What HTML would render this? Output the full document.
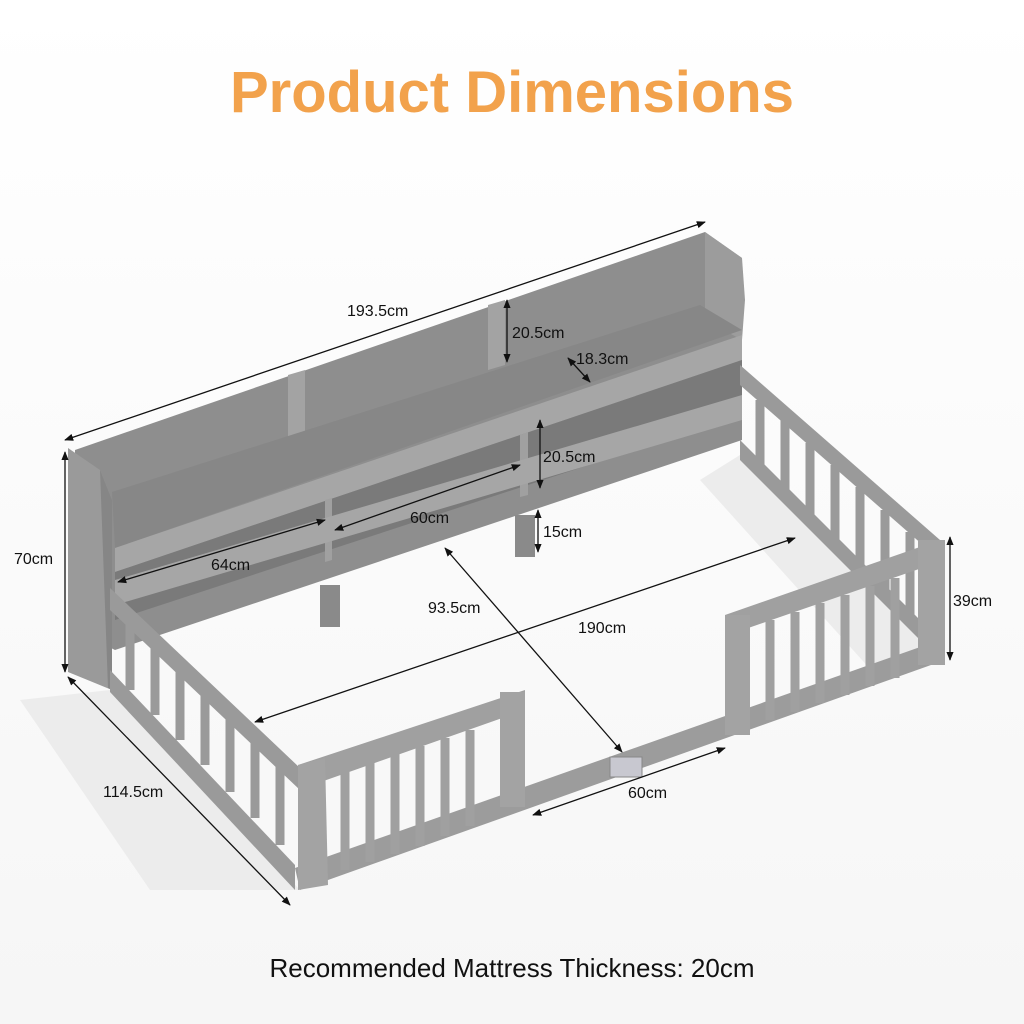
<!DOCTYPE html>
<html><head><meta charset="utf-8"><style>
html,body{margin:0;padding:0;background:#fff;}
svg{display:block;}
text{font-family:"Liberation Sans",sans-serif;}
</style></head><body>
<svg width="1024" height="1024" viewBox="0 0 1024 1024" xmlns="http://www.w3.org/2000/svg">
<defs>
<marker id="a" viewBox="0 0 10 10" refX="9" refY="5" markerWidth="7" markerHeight="7" orient="auto-start-reverse"><path d="M0,1 L10,5 L0,9 z" fill="#111"/></marker>
<linearGradient id="bg" x1="0" y1="0" x2="0" y2="1"><stop offset="0" stop-color="#ffffff"/><stop offset="1" stop-color="#f6f6f6"/></linearGradient>
</defs>
<rect width="1024" height="1024" fill="url(#bg)"/>
<text x="512" y="112" text-anchor="middle" font-size="58" font-weight="bold" fill="#F2A24C">Product Dimensions</text>

<g fill="#ececec">
<polygon points="20,700 110,690 300,890 150,890"/>
<polygon points="740,455 940,660 880,680 700,480"/>
</g>

<polygon points="75,450 705,232 742,258 742,440 115,650 75,630" fill="#8e8e8e"/>
<polygon points="705,232 742,258 745,300 742,340 705,320" fill="#9c9c9c"/>
<polygon points="288,375 305,370 305,435 288,440" fill="#a3a3a3"/>
<polygon points="488,305 505,300 505,365 488,370" fill="#a3a3a3"/>
<polygon points="112,492 700,305 742,330 115,548" fill="#878787"/>
<polygon points="115,548 742,335 742,360 115,572" fill="#a6a6a6"/>
<polygon points="115,572 742,360 742,415 115,620" fill="#7a7a7a"/>
<polygon points="325,500 332,498 332,560 325,562" fill="#a0a0a0"/>
<polygon points="520,435 528,432 528,495 520,497" fill="#a0a0a0"/>
<polygon points="115,580 742,395 742,420 115,605" fill="#a6a6a6"/>
<rect x="320" y="585" width="20" height="42" fill="#8a8a8a"/>
<rect x="515" y="515" width="20" height="42" fill="#8a8a8a"/>
<polygon points="68,448 100,470 112,500 112,690 68,672" fill="#9a9a9a"/>
<polygon points="100,470 112,500 112,690 108,688" fill="#868686"/>

<polygon points="110,588 300,768 300,790 110,610" fill="#9a9a9a"/>
<polygon points="110,670 295,865 295,890 110,692" fill="#9a9a9a"/>
<g stroke="#9a9a9a" stroke-width="9">
<line x1="130" y1="615" x2="130" y2="690"/><line x1="155" y1="640" x2="155" y2="715"/>
<line x1="180" y1="662" x2="180" y2="740"/><line x1="205" y1="686" x2="205" y2="765"/>
<line x1="230" y1="710" x2="230" y2="792"/><line x1="255" y1="734" x2="255" y2="818"/>
<line x1="280" y1="758" x2="280" y2="845"/>
</g>
<polygon points="740,365 940,540 940,560 740,385" fill="#9a9a9a"/>
<polygon points="740,440 930,630 930,650 740,460" fill="#9a9a9a"/>
<g stroke="#9a9a9a" stroke-width="9">
<line x1="760" y1="400" x2="760" y2="470"/><line x1="785" y1="420" x2="785" y2="495"/>
<line x1="810" y1="443" x2="810" y2="520"/><line x1="835" y1="465" x2="835" y2="545"/>
<line x1="860" y1="487" x2="860" y2="570"/><line x1="885" y1="510" x2="885" y2="595"/>
<line x1="910" y1="532" x2="910" y2="620"/>
</g>
<polygon points="295,868 940,640 945,660 300,890" fill="#9c9c9c"/>
<polygon points="298,765 525,690 525,710 298,790" fill="#a0a0a0"/>
<polygon points="298,765 325,758 328,885 298,890" fill="#a3a3a3"/>
<rect x="500" y="692" width="25" height="115" fill="#a3a3a3"/>
<g stroke="#a0a0a0" stroke-width="9">
<line x1="345" y1="770" x2="345" y2="870"/><line x1="370" y1="762" x2="370" y2="862"/>
<line x1="395" y1="754" x2="395" y2="854"/><line x1="420" y1="746" x2="420" y2="846"/>
<line x1="445" y1="738" x2="445" y2="836"/><line x1="470" y1="730" x2="470" y2="826"/>
</g>
<polygon points="725,615 940,540 945,560 728,635" fill="#a0a0a0"/>
<rect x="725" y="615" width="25" height="120" fill="#a3a3a3"/>
<rect x="918" y="540" width="27" height="125" fill="#a3a3a3"/>
<g stroke="#a0a0a0" stroke-width="9">
<line x1="770" y1="620" x2="770" y2="720"/><line x1="795" y1="612" x2="795" y2="712"/>
<line x1="820" y1="603" x2="820" y2="703"/><line x1="845" y1="595" x2="845" y2="695"/>
<line x1="870" y1="586" x2="870" y2="686"/><line x1="895" y1="578" x2="895" y2="678"/>
</g>
<rect x="610" y="757" width="32" height="20" fill="#c8c8d0" stroke="#888"/>

<g stroke="#111" stroke-width="1.3" fill="none" marker-start="url(#a)" marker-end="url(#a)">
<line x1="65" y1="440" x2="705" y2="222"/>
<line x1="65" y1="452" x2="65" y2="672"/>
<line x1="68" y1="677" x2="290" y2="905"/>
<line x1="950" y1="537" x2="950" y2="660"/>
<line x1="255" y1="722" x2="795" y2="538"/>
<line x1="445" y1="548" x2="622" y2="752"/>
<line x1="533" y1="815" x2="725" y2="748"/>
<line x1="507" y1="300" x2="507" y2="362"/>
<line x1="568" y1="358" x2="590" y2="382"/>
<line x1="540" y1="420" x2="540" y2="488"/>
<line x1="335" y1="530" x2="520" y2="465"/>
<line x1="118" y1="582" x2="325" y2="520"/>
<line x1="538" y1="510" x2="538" y2="552"/>
</g>
<g font-size="16" fill="#111">
<text x="347" y="316">193.5cm</text>
<text x="14" y="564">70cm</text>
<text x="103" y="797">114.5cm</text>
<text x="953" y="606">39cm</text>
<text x="578" y="633">190cm</text>
<text x="428" y="613">93.5cm</text>
<text x="628" y="798">60cm</text>
<text x="512" y="338">20.5cm</text>
<text x="576" y="364">18.3cm</text>
<text x="543" y="462">20.5cm</text>
<text x="410" y="523">60cm</text>
<text x="211" y="570">64cm</text>
<text x="543" y="537">15cm</text>
</g>
<text x="512" y="977" text-anchor="middle" font-size="26" fill="#111">Recommended Mattress Thickness: 20cm</text>
</svg>
</body></html>
